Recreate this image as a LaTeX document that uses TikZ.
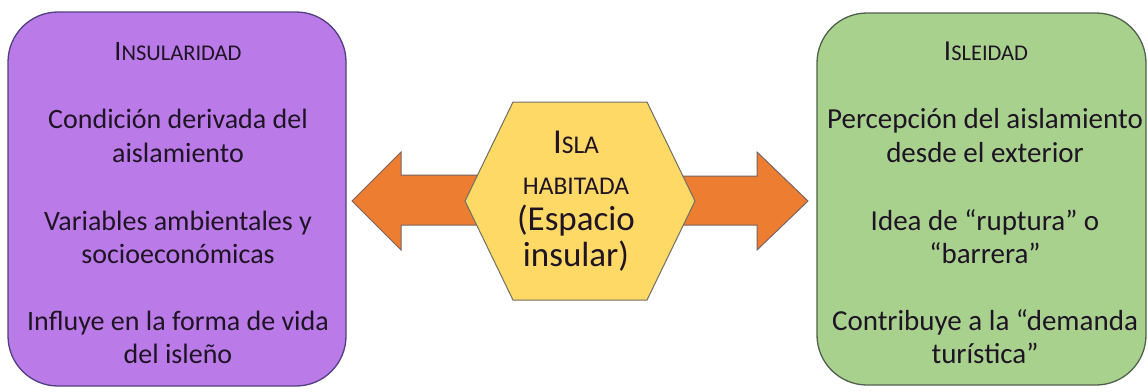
\documentclass[tikz,border=0pt]{standalone}
\usepackage{fontspec}
\setmainfont{Carlito}
\definecolor{boxpurple}{RGB}{186,122,232}
\definecolor{purpleedge}{RGB}{80,64,130}
\definecolor{boxgreen}{RGB}{169,209,142}
\definecolor{greenedge}{RGB}{80,96,76}
\definecolor{hexyellow}{RGB}{255,217,102}
\definecolor{hexedge}{RGB}{110,110,100}
\definecolor{arroworange}{RGB}{237,125,49}
\definecolor{arrowedge}{RGB}{120,100,100}
\definecolor{txtdark}{RGB}{30,20,35}
\newcommand{\leftsz}{\fontsize{28}{34}\selectfont}
\newcommand{\leftsc}{\fontsize{22.5}{26}\selectfont}
\newcommand{\rightsz}{\fontsize{29}{34}\selectfont}
\newcommand{\rightsc}{\fontsize{22.5}{26}\selectfont}
\newcommand{\hexsz}{\fontsize{35}{38}\selectfont}
\newcommand{\hexsc}{\fontsize{25.5}{28}\selectfont}
\begin{document}
\begin{tikzpicture}[x=1pt,y=-1pt,
  boxshape/.style={line width=1.3pt, rounded corners=50pt},
  arrowshape/.style={fill=arroworange, draw=arrowedge, line width=1pt, line join=miter},
  ltxt/.style={anchor=base, inner sep=0pt, text=txtdark, font=\leftsz},
  rtxt/.style={anchor=base, inner sep=0pt, text=txtdark, font=\rightsz},
  hextxt/.style={anchor=base, inner sep=0pt, text=txtdark, font=\hexsz}]
\useasboundingbox (0,0) rectangle (1148,391);
% boxes
\draw[boxshape, fill=boxpurple, draw=purpleedge] (8,12) rectangle (346,386);
\draw[boxshape, fill=boxgreen, draw=greenedge] (817,13) rectangle (1146,385);
% arrows
\draw[arrowshape] (352,201) -- (401,152) -- (401,175) -- (520,175) -- (520,225) -- (401,225) -- (401,250) -- cycle;
\draw[arrowshape] (808,201) -- (757,152) -- (757,176) -- (640,176) -- (640,225) -- (757,225) -- (757,250) -- cycle;
% hexagon
\draw[fill=hexyellow, draw=hexedge, line width=1pt, line join=miter]
  (513,102) -- (647,102) -- (695,201) -- (647,300) -- (513,300) -- (465,201) -- cycle;
% left text
\node[ltxt] (lh) at (178,60) {I{\leftsc NSULARIDAD}};
\node[ltxt] (l1) at (178,128) {Condición derivada del};
\node[ltxt] (l2) at (178,162) {aislamiento};
\node[ltxt] (l3) at (178,230) {Variables ambientales y};
\node[ltxt] (l4) at (178,263) {socioeconómicas};
\node[ltxt] (l5) at (178,330) {Influye en la forma de vida};
\node[ltxt] (l6) at (178,363) {del isleño};
% right text
\node[rtxt] (rh) at (986,60) {I{\rightsc SLEIDAD}};
\node[rtxt] (r1) at (985,128) {Percepción del aislamiento};
\node[rtxt] (r2) at (985,162) {desde el exterior};
\node[rtxt] (r3) at (985,230) {Idea de “ruptura” o};
\node[rtxt] (r4) at (985,263) {“barrera”};
\node[rtxt] (r5) at (985,330) {Contribuye a la “demanda};
\node[rtxt] (r6) at (985,363) {turística”};
% hexagon text
\node[hextxt] (h1) at (576,153) {I{\hexsc SLA}};
\node[hextxt] (h2) at (576,194) {{\hexsc HABITADA}};
\node[hextxt] (h3) at (576,230) {(Espacio};
\node[hextxt] (h4) at (576,266) {insular)};
\end{tikzpicture}
\end{document}
